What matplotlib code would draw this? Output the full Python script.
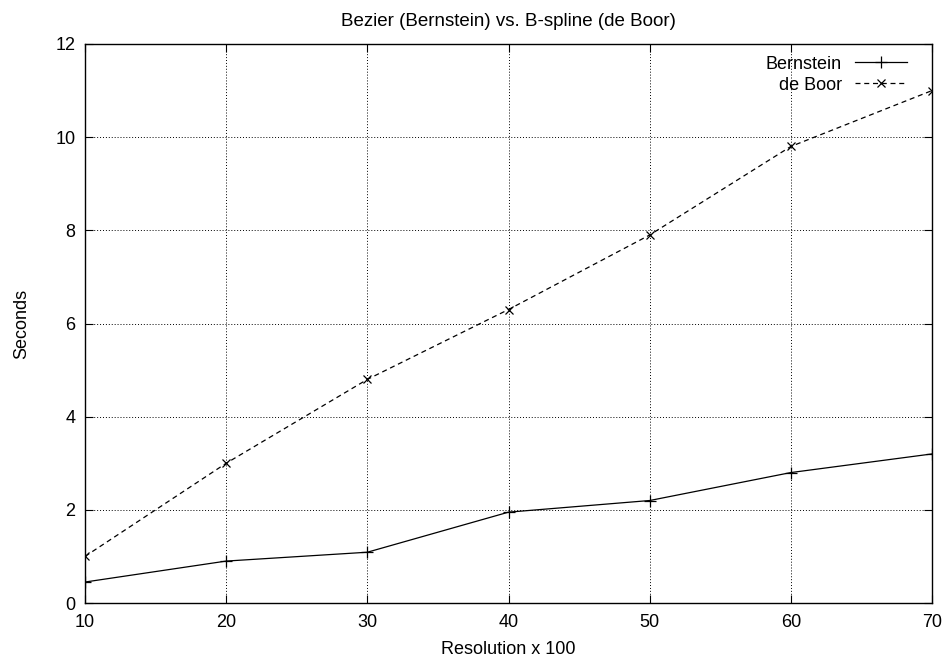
import matplotlib
matplotlib.use('Agg')
import matplotlib.pyplot as plt

plt.rcParams['font.family'] = ['Liberation Sans', 'DejaVu Sans']
plt.rcParams['font.size'] = 13

# data
resolution = [10, 20, 30, 40, 50, 60, 70]
bernstein = [0.45, 0.9, 1.09, 1.95, 2.2, 2.8, 3.2]
de_boor = [1.0, 3.0, 4.8, 6.3, 7.9, 9.8, 11.0]

fig = plt.figure(figsize=(9.48, 6.64), dpi=100)
ax = fig.add_axes([85 / 948, 61 / 664, 847 / 948, 559 / 664])

ax.plot(resolution, bernstein, color='black', lw=0.9, marker='+',
        markersize=8, markeredgewidth=0.9, label='Bernstein')
ax.plot(resolution, de_boor, color='black', lw=0.9, ls=(0, (4, 3)), marker='x',
        markersize=6, markeredgewidth=0.9, label='de Boor')

ax.set_xlim(10, 70)
ax.set_ylim(0, 12)
ax.set_xticks(resolution)
ax.set_yticks(range(0, 13, 2))
ax.grid(True, color='black', ls=(0, (1, 2)), lw=0.7)
ax.tick_params(direction='in', length=6, width=0.8, top=True, right=True)
ax.tick_params(axis='x', pad=8)
ax.tick_params(axis='y', pad=7)
for s in ax.spines.values():
    s.set_linewidth(1.0)

ax.set_xlabel('Resolution x 100', labelpad=7)
ax.set_ylabel('Seconds', labelpad=18)
ax.set_title('Bezier (Bernstein) vs. B-spline (de Boor)', fontsize=13.5, pad=13)

ax.legend(loc='upper right', bbox_to_anchor=(0.979, 0.992), frameon=False,
          markerfirst=False, handlelength=2.9, borderaxespad=0,
          labelspacing=0.22, handletextpad=0.7)

fig.savefig('out.png', dpi=100)
